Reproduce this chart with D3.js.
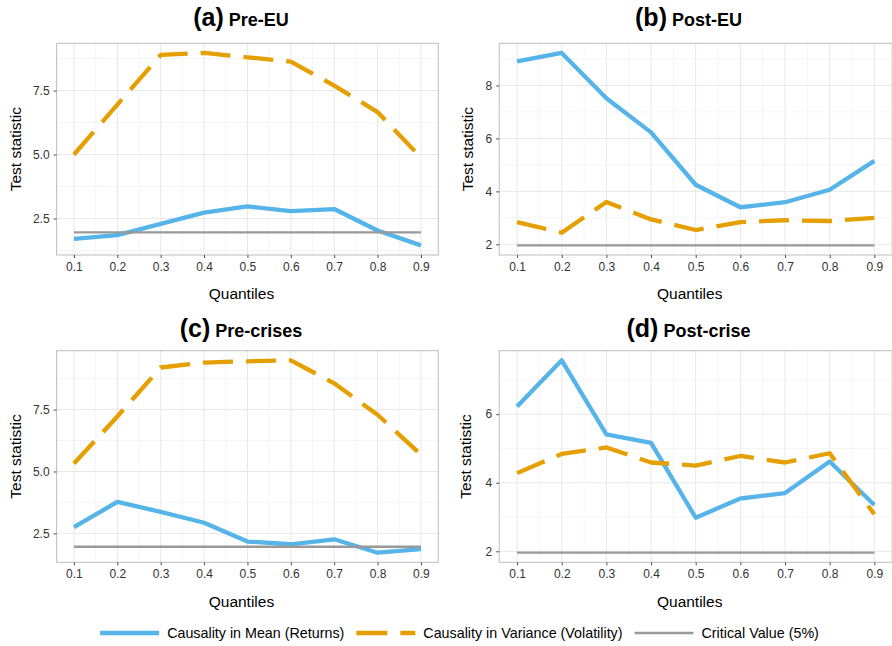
<!DOCTYPE html>
<meta charset="utf-8">
<script src="https://d3js.org/d3.v7.min.js"></script>
<style>
  body { margin: 0; background: #fff; }
  svg { display: block; font-family: "Liberation Sans", Arial, Helvetica, sans-serif; }
</style>
<div id="chart"></div>
<script>
var width = 892, height = 646;

// data
var quantiles = [0.1, 0.2, 0.3, 0.4, 0.5, 0.6, 0.7, 0.8, 0.9];
var criticalValue = 1.96;

var preEUMean = [1.70, 1.85, 2.29, 2.73, 2.97, 2.79, 2.87, 2.03, 1.45];
var preEUVar  = [5.00, 6.95, 8.89, 8.97, 8.80, 8.63, 7.69, 6.66, 4.88];

var postEUMean = [8.91, 9.23, 7.52, 6.23, 4.25, 3.40, 3.59, 4.06, 5.15];
var postEUVar  = [2.84, 2.44, 3.60, 2.94, 2.54, 2.84, 2.91, 2.88, 3.00];

var preCrisesMean = [2.75, 3.77, 3.37, 2.93, 2.17, 2.06, 2.26, 1.72, 1.86];
var preCrisesVar  = [5.32, 7.22, 9.20, 9.40, 9.45, 9.49, 8.56, 7.29, 5.68];

var postCriseMean = [6.22, 7.57, 5.41, 5.16, 2.98, 3.54, 3.70, 4.62, 3.35];
var postCriseVar  = [4.28, 4.84, 5.03, 4.59, 4.50, 4.78, 4.59, 4.86, 3.08];

var ticksA = [2.5, 5.0, 7.5];
var ticksB = [2, 4, 6, 8];
var ticksD = [2, 4, 6];

var seriesNames = ["Causality in Mean (Returns)", "Causality in Variance (Volatility)", "Critical Value (5%)"];

var blue = "#56B4E9", orange = "#E69F00", grey = "#999999";

var panels = [
  {tag: "(a)", name: "Pre-EU", mean: preEUMean, vari: preEUVar, ticks: ticksA, fmt: d3.format(".1f"),
   x0: 56.6, x1: 438.3, y0: 43.3, y1: 255, titleX: 241, titleY: 26, ylabX: 15, xlabY: 293},
  {tag: "(b)", name: "Post-EU", mean: postEUMean, vari: postEUVar, ticks: ticksB, fmt: d3.format("d"),
   x0: 499.2, x1: 892.2, y0: 43.3, y1: 255, titleX: 688.5, titleY: 26, ylabX: 467, xlabY: 293},
  {tag: "(c)", name: "Pre-crises", mean: preCrisesMean, vari: preCrisesVar, ticks: ticksA, fmt: d3.format(".1f"),
   x0: 56.6, x1: 438.3, y0: 350.7, y1: 562.3, titleX: 241, titleY: 337, ylabX: 15, xlabY: 601},
  {tag: "(d)", name: "Post-crise", mean: postCriseMean, vari: postCriseVar, ticks: ticksD, fmt: d3.format("d"),
   x0: 499.2, x1: 892.2, y0: 350.7, y1: 562.3, titleX: 688.5, titleY: 337, ylabX: 465.5, xlabY: 601}
];

var svg = d3.select("#chart").append("svg")
  .attr("width", width)
  .attr("height", height);

panels.forEach(function(p) {
  // ggplot-style 5% expansion
  var ext = d3.extent(p.mean.concat(p.vari, [criticalValue]));
  var pad = (ext[1] - ext[0]) * 0.05;
  var xPad = (quantiles[quantiles.length - 1] - quantiles[0]) * 0.05;

  var x = d3.scaleLinear()
    .domain([quantiles[0] - xPad, quantiles[quantiles.length - 1] + xPad])
    .range([p.x0, p.x1]);
  var y = d3.scaleLinear()
    .domain([ext[0] - pad, ext[1] + pad])
    .range([p.y1, p.y0]);

  var g = svg.append("g");

  g.append("rect")
    .attr("x", p.x0).attr("y", p.y0)
    .attr("width", p.x1 - p.x0).attr("height", p.y1 - p.y0)
    .attr("fill", "#fff");

  // minor grid
  var xMinor = d3.range(quantiles.length - 1).map(function(i) { return (quantiles[i] + quantiles[i + 1]) / 2; });
  var step = p.ticks[1] - p.ticks[0];
  var yMinor = [p.ticks[0] - step / 2].concat(p.ticks.map(function(t) { return t + step / 2; }))
    .filter(function(v) { return v > y.domain()[0] && v < y.domain()[1]; });

  g.selectAll(".xminor").data(xMinor).enter().append("line")
    .attr("x1", x).attr("x2", x).attr("y1", p.y0).attr("y2", p.y1)
    .attr("stroke", "#f2f2f2").attr("stroke-width", 0.8);
  g.selectAll(".yminor").data(yMinor).enter().append("line")
    .attr("x1", p.x0).attr("x2", p.x1).attr("y1", y).attr("y2", y)
    .attr("stroke", "#f2f2f2").attr("stroke-width", 0.8);

  // major grid
  g.selectAll(".xmajor").data(quantiles).enter().append("line")
    .attr("x1", x).attr("x2", x).attr("y1", p.y0).attr("y2", p.y1)
    .attr("stroke", "#e8e8e8").attr("stroke-width", 1);
  g.selectAll(".ymajor").data(p.ticks).enter().append("line")
    .attr("x1", p.x0).attr("x2", p.x1).attr("y1", y).attr("y2", y)
    .attr("stroke", "#e8e8e8").attr("stroke-width", 1);

  var line = d3.line()
    .x(function(d, i) { return x(quantiles[i]); })
    .y(function(d) { return y(d); });

  g.append("path")
    .attr("d", line(p.mean))
    .attr("fill", "none").attr("stroke", blue).attr("stroke-width", 4.3)
    .attr("stroke-linejoin", "round");

  g.append("path")
    .attr("d", line(p.vari))
    .attr("fill", "none").attr("stroke", orange).attr("stroke-width", 4.3)
    .attr("stroke-linejoin", "round")
    .attr("stroke-dasharray", "30,13");

  g.append("line")
    .attr("x1", x(quantiles[0])).attr("x2", x(quantiles[quantiles.length - 1]))
    .attr("y1", y(criticalValue)).attr("y2", y(criticalValue))
    .attr("stroke", grey).attr("stroke-width", 2.3);

  g.append("rect")
    .attr("x", p.x0).attr("y", p.y0)
    .attr("width", p.x1 - p.x0).attr("height", p.y1 - p.y0)
    .attr("fill", "none").attr("stroke", "#bdbdbd").attr("stroke-width", 1);

  // axes
  var xAxis = g.append("g")
    .attr("transform", "translate(0," + p.y1 + ")")
    .call(d3.axisBottom(x).tickValues(quantiles).tickFormat(d3.format(".1f")).tickSize(3).tickPadding(4));
  var yAxis = g.append("g")
    .attr("transform", "translate(" + p.x0 + ",0)")
    .call(d3.axisLeft(y).tickValues(p.ticks).tickFormat(p.fmt).tickSize(3).tickPadding(4));

  [xAxis, yAxis].forEach(function(a) {
    a.select(".domain").remove();
    a.selectAll(".tick line").attr("stroke", "#4d4d4d").attr("stroke-width", 1);
    a.selectAll(".tick text").attr("fill", "#333").style("font-size", "12px")
      .style("font-family", "'Liberation Sans', Arial, Helvetica, sans-serif");
  });

  // titles
  var t = svg.append("text")
    .attr("x", p.titleX).attr("y", p.titleY)
    .attr("text-anchor", "middle")
    .attr("font-weight", "bold")
    .attr("fill", "#000");
  t.append("tspan").text(p.tag).style("font-size", "25px");
  t.append("tspan").text(" " + p.name).style("font-size", "18px");

  svg.append("text")
    .attr("x", (p.x0 + p.x1) / 2 - 6).attr("y", p.xlabY)
    .attr("text-anchor", "middle").attr("dominant-baseline", "central")
    .style("font-size", "15.5px").attr("fill", "#000")
    .text("Quantiles");

  svg.append("text")
    .attr("transform", "translate(" + p.ylabX + "," + (p.y0 + p.y1) / 2 + ") rotate(-90)")
    .attr("text-anchor", "middle").attr("dominant-baseline", "central")
    .style("font-size", "15.5px").attr("fill", "#000")
    .text("Test statistic");
});

// legend
var legend = svg.append("g").attr("transform", "translate(0,633)");
var keyW = 59, keyGap = 8, itemGap = 12;
var styles = [
  {color: blue, w: 4.3, dash: null},
  {color: orange, w: 4.3, dash: "31,13"},
  {color: grey, w: 2.3, dash: null}
];
var items = legend.selectAll(".item").data(seriesNames).enter().append("g");
items.append("line")
  .attr("x1", 0).attr("x2", keyW).attr("y1", 0).attr("y2", 0)
  .attr("stroke", function(d, i) { return styles[i].color; })
  .attr("stroke-width", function(d, i) { return styles[i].w; })
  .attr("stroke-dasharray", function(d, i) { return styles[i].dash; });
items.append("text")
  .attr("x", keyW + keyGap).attr("y", 0)
  .attr("dominant-baseline", "central")
  .style("font-size", "14.3px").attr("fill", "#000")
  .text(function(d) { return d; });

var offs = [], cur = 0;
items.each(function() {
  offs.push(cur);
  var tw = d3.select(this).select("text").node().getComputedTextLength();
  cur += keyW + keyGap + tw + itemGap;
});
var total = cur - itemGap;
var start = 459.5 - total / 2;
items.attr("transform", function(d, i) { return "translate(" + (start + offs[i]) + ",0)"; });
</script>
